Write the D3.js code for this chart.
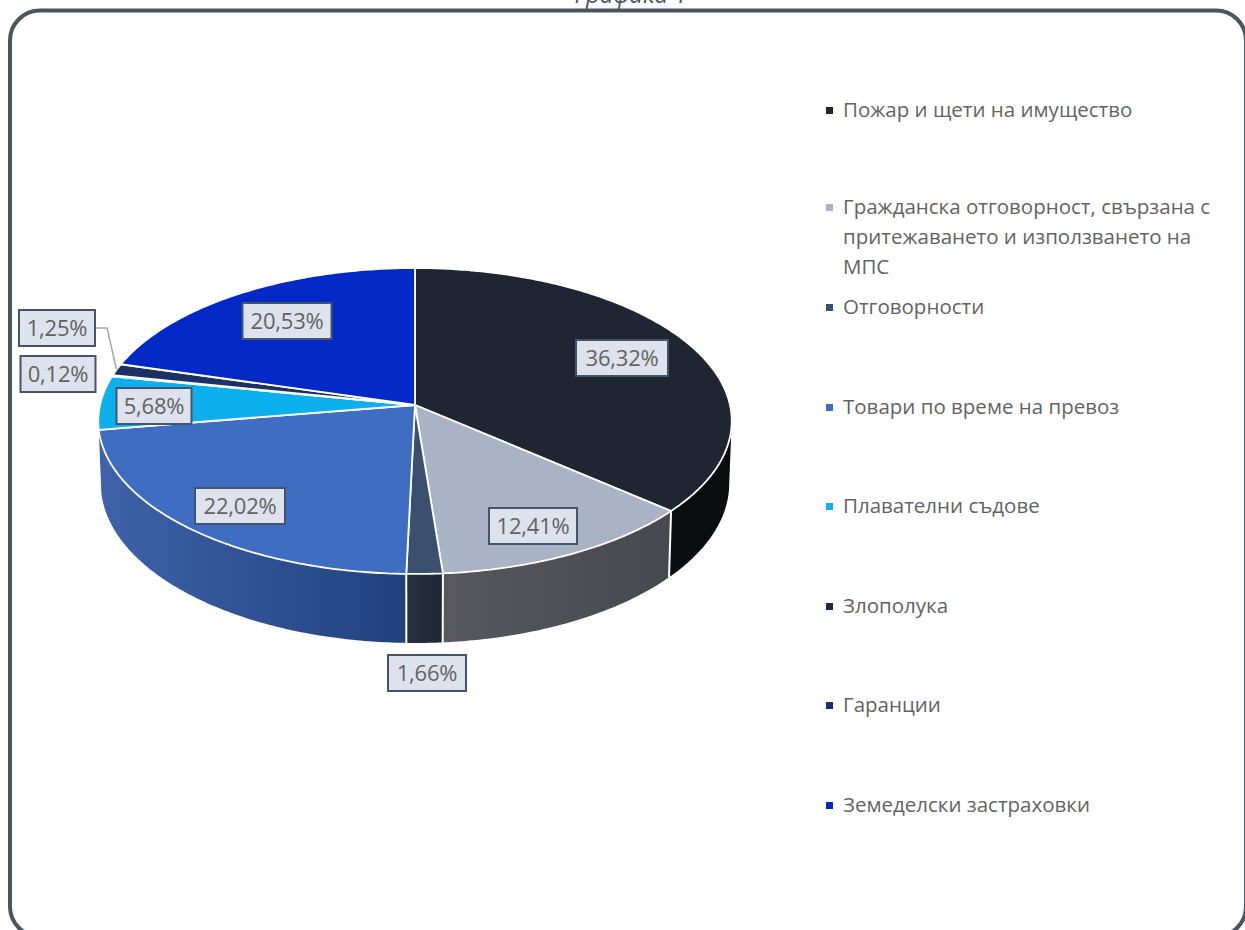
<!DOCTYPE html>
<html lang="bg">
<head>
<meta charset="utf-8">
<title>Графика 1</title>
<script src="https://cdn.jsdelivr.net/npm/d3@7"></script>
<style>
  html, body { margin: 0; padding: 0; background: #fff; overflow: hidden; }
  svg { display: block; }
  text { font-family: "Open Sans", "Noto Sans", sans-serif; }
</style>
</head>
<body>
<div id="chart"></div>
<script>
// Insurance classes and their shares, in percent
const categories = [
  "Пожар и щети на имущество",
  "Гражданска отговорност, свързана с притежаването и използването на МПС",
  "Отговорности",
  "Товари по време на превоз",
  "Плавателни съдове",
  "Злополука",
  "Гаранции",
  "Земеделски застраховки"
];
const shares = [36.32, 12.41, 1.66, 22.02, 5.68, 0.12, 1.25, 20.53];
const shareLabels = ["36,32%", "12,41%", "1,66%", "22,02%", "5,68%", "0,12%", "1,25%", "20,53%"];
const legendLines = [
  ["Пожар и щети на имущество"],
  ["Гражданска отговорност, свързана с", "притежаването и използването на", "МПС"],
  ["Отговорности"],
  ["Товари по време на превоз"],
  ["Плавателни съдове"],
  ["Злополука"],
  ["Гаранции"],
  ["Земеделски застраховки"]
];

// Styling, one entry per category
const topColors = ["#1f2531", "#a9b3c5", "#3b506f", "#3f6dc2", "#0bb0ec", "#1b2a48", "#1c3163", "#0229c6"];
const wallColors = [
  ["#0c0e12", "#0a0b0e"],
  ["#57595f", "#46484e"],
  ["#263040", "#1d2734"],
  ["#3e63aa", "#20417d"]
];

// Layout
const width = 1245, height = 930;
const hub = { x: 415, y: 405 };
const radiusX = 315, radiusY = 151.3, tilt = 0.1046, depth = 61.8, floorShrink = 0.992;
// Centre of each value box, in category order
const labelCentres = [[622, 358], [533, 526], [427, 673], [240, 506], [154, 406], [58, 374], [57, 328], [287, 321]];
const labelWidths = [92, 88, 78, 90, 75, 75, 76, 89];
const legendRows = [110, 207, 307, 407, 506, 606, 705, 805];
const legendLineHeight = 30;

// Perspective projection of a rim point at a pie angle (clockwise from 12 o'clock)
function rim(angle, lower) {
  const u = Math.sin(angle), v = -Math.cos(angle), w = 1 - tilt * v;
  const x = radiusX * u / w, y = radiusY * v / w;
  return lower
    ? [hub.x + x * floorShrink, hub.y + y + depth / w]
    : [hub.x + x, hub.y + y];
}
function sampleAngles(a0, a1) {
  const n = Math.max(2, Math.ceil((a1 - a0) * 90));
  return d3.range(n + 1).map(i => a0 + (a1 - a0) * i / n);
}

const svg = d3.select("#chart").append("svg").attr("width", width).attr("height", height);
const defs = svg.append("defs");
const line = d3.line();

svg.append("text")
  .attr("x", 631).attr("y", 3)
  .attr("text-anchor", "middle")
  .attr("font-style", "italic")
  .attr("font-size", 24)
  .attr("fill", "#44546a")
  .text("Графика 1");

svg.append("rect")
  .attr("x", 10).attr("y", 10.5)
  .attr("width", 1236).attr("height", 926)
  .attr("rx", 30).attr("ry", 30)
  .attr("fill", "#fff")
  .attr("stroke", "#4a5563")
  .attr("stroke-width", 4);

const slices = d3.pie().sort(null).value(d => d)(shares);

// The wall is seen from the right-hand extreme of the rim round to the end of the fourth slice
const wallFrom = Math.acos(-tilt), wallTo = slices[3].endAngle;

const walls = svg.append("g");
slices.forEach((s, i) => {
  const a0 = Math.max(s.startAngle, wallFrom), a1 = Math.min(s.endAngle, wallTo);
  if (a1 <= a0) return;
  const angles = sampleAngles(a0, a1);
  const upper = angles.map(a => rim(a, false));
  const lower = angles.map(a => rim(a, true)).reverse();
  const xs = upper.map(p => p[0]);
  const id = "wall" + i;
  const grad = defs.append("linearGradient").attr("id", id)
    .attr("gradientUnits", "userSpaceOnUse")
    .attr("x1", d3.min(xs)).attr("x2", d3.max(xs)).attr("y1", 0).attr("y2", 0);
  // Wall colours are listed left to right on the screen
  grad.append("stop").attr("offset", 0).attr("stop-color", wallColors[i][0]);
  grad.append("stop").attr("offset", 1).attr("stop-color", wallColors[i][1]);
  walls.append("path")
    .attr("d", line(upper.concat(lower)) + "Z")
    .attr("fill", `url(#${id})`);
});

// White seams where the slices meet on the wall
slices.forEach(s => {
  const a = s.startAngle;
  if (a <= wallFrom || a >= wallTo) return;
  walls.append("path")
    .attr("d", line([rim(a, false), rim(a, true)]))
    .attr("stroke", "#fff").attr("stroke-width", 2).attr("fill", "none");
});

// Top face
svg.append("g").selectAll("path").data(slices).join("path")
  .attr("d", s => line([[hub.x, hub.y]].concat(sampleAngles(s.startAngle, s.endAngle).map(a => rim(a, false)))) + "Z")
  .attr("fill", (s, i) => topColors[i])
  .attr("stroke", "#fff")
  .attr("stroke-width", 1.8)
  .attr("stroke-linejoin", "round");

// Leader from the 1,25% box to its slice
const guaranteeIdx = 6;
const guaranteeMid = (slices[guaranteeIdx].startAngle + slices[guaranteeIdx].endAngle) / 2;
const guaranteeTip = rim(guaranteeMid, false);
const guaranteeBoxRight = labelCentres[guaranteeIdx][0] + labelWidths[guaranteeIdx] / 2;
svg.append("path")
  .attr("d", line([
    [guaranteeBoxRight, labelCentres[guaranteeIdx][1]],
    [guaranteeBoxRight + 12, labelCentres[guaranteeIdx][1]],
    guaranteeTip
  ]))
  .attr("fill", "none").attr("stroke", "#a6a6a6").attr("stroke-width", 1.5);

// Value boxes
const boxHeight = 36;
const boxes = svg.append("g").selectAll("g").data(shareLabels).join("g")
  .attr("transform", (d, i) => `translate(${labelCentres[i][0]},${labelCentres[i][1]})`);
boxes.append("rect")
  .attr("x", (d, i) => -labelWidths[i] / 2).attr("y", -boxHeight / 2)
  .attr("width", (d, i) => labelWidths[i]).attr("height", boxHeight)
  .attr("fill", "#dde2ed").attr("stroke", "#44546a").attr("stroke-width", 2);
boxes.append("text")
  .attr("text-anchor", "middle").attr("y", 8)
  .attr("font-size", 22).attr("letter-spacing", -0.2).attr("fill", "#636363")
  .text(d => d);

// Legend
const legend = svg.append("g").selectAll("g").data(categories).join("g")
  .attr("transform", (d, i) => `translate(826,${legendRows[i]})`);
legend.append("rect")
  .attr("x", 0).attr("y", -3).attr("width", 7).attr("height", 7)
  .attr("fill", (d, i) => topColors[i]);
legend.append("text")
  .attr("font-size", 20.5).attr("fill", "#636363")
  .selectAll("tspan").data((d, i) => legendLines[i]).join("tspan")
  .attr("x", 17)
  .attr("y", (d, j) => 7 + j * legendLineHeight)
  .text(d => d);
</script>
</body>
</html>
